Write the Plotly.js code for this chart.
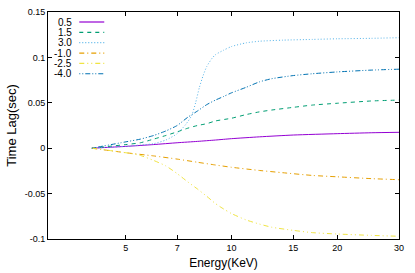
<!DOCTYPE html>
<html>
<head>
<meta charset="utf-8">
<script src="https://cdn.plot.ly/plotly-3.0.1.min.js"></script>
<style>html,body{margin:0;padding:0;background:#fff;}#chart{width:415px;height:273px;}</style>
</head>
<body>
<div id="chart"></div>
<script>
// Series names
const seriesNames = ["0.5", "1.5", "3.0", "-1.0", "-2.5", "-4.0"];
// Energies (KeV) per series, and time lag values (sec)
const e05 = [4, 5, 6, 7, 8, 9, 10, 12, 15, 20, 25, 30];
const v05 = [0, 0.002, 0.004, 0.006, 0.0075, 0.009, 0.0105, 0.0125, 0.0145, 0.016, 0.017, 0.0175];

const e15 = [4, 5, 5.5, 6, 6.5, 7, 7.5, 8, 8.5, 9, 10, 11, 12, 13, 15, 17, 20, 25, 30];
const v15 = [0, 0.004, 0.006, 0.010, 0.014, 0.018, 0.022, 0.025, 0.027, 0.030, 0.033, 0.037, 0.040, 0.042, 0.045, 0.0475, 0.0495, 0.052, 0.053];

const e30 = [4, 5, 5.5, 6, 6.5, 7, 7.4, 7.7, 7.9, 8.1, 8.3, 8.5, 8.8, 9, 9.5, 10, 11, 12, 14, 17, 20, 25, 30];
const v30 = [0, 0.002, 0.0035, 0.005, 0.009, 0.016, 0.026, 0.036, 0.050, 0.067, 0.080, 0.090, 0.099, 0.103, 0.108, 0.112, 0.116, 0.1178, 0.119, 0.1198, 0.1205, 0.121, 0.1217];

const em10 = [4, 5, 6, 7, 8, 9, 10, 12, 14, 17, 20, 25, 30];
const vm10 = [0, -0.005, -0.0085, -0.012, -0.0155, -0.0185, -0.021, -0.0245, -0.027, -0.030, -0.0315, -0.0335, -0.0347];

const em25 = [4, 5, 5.5, 6, 6.5, 7, 7.5, 8, 8.5, 9, 9.5, 10, 11, 12, 13, 15, 17, 20, 25, 30];
const vm25 = [0, -0.005, -0.008, -0.0135, -0.0195, -0.028, -0.037, -0.045, -0.053, -0.061, -0.067, -0.072, -0.079, -0.0835, -0.087, -0.0905, -0.093, -0.0945, -0.096, -0.097];

const em40 = [4, 5, 5.5, 6, 6.5, 7, 7.5, 8, 8.5, 9, 9.5, 10, 11, 12, 13, 15, 17, 20, 25, 30];
const vm40 = [0, 0.007, 0.010, 0.014, 0.019, 0.025, 0.034, 0.041, 0.048, 0.053, 0.057, 0.061, 0.067, 0.073, 0.0765, 0.080, 0.082, 0.084, 0.086, 0.087];

// Axis ticks
const xTickVals = [5, 7, 10, 15, 20, 30];
const xTickText = ["5", "7", "10", "15", "20", "30"];
const yTickVals = [-0.1, -0.05, 0, 0.05, 0.1, 0.15];
const yTickText = ["-0.1", "-0.05", "0", "0.05", "0.1", "0.15"];

const xs = [e05, e15, e30, em10, em25, em40];
const ys = [v05, v15, v30, vm10, vm25, vm40];
const colors = ["#9400d3", "#009e73", "#56b4e9", "#e69f00", "#f0e442", "#0072b2"];
const dashes = ["solid", "4px,4px", "1px,2px", "5px,3px,1px,3px", "5px,3px,1px,3px,1px,3px", "1px,2px,1px,2px,5px,2px"];

const traces = seriesNames.map((n, i) => ({
  x: xs[i], y: ys[i], name: n, type: "scatter", mode: "lines",
  line: {color: colors[i], width: 1, dash: dashes[i], shape: "spline", smoothing: 0.6},
  showlegend: false, hoverinfo: "skip"
}));

// custom gnuplot-style key (text left, line sample right)
const L = 48, R = 399.3, T = 11.7, B = 238.7;
const pxX = p => (p - L) / (R - L);
const pxY = p => (B - p) / (B - T);
const annotations = [];
const shapes = [];
seriesNames.forEach((n, i) => {
  const py = 21.7 + i * 10.35;
  annotations.push({xref: "paper", yref: "paper", x: pxX(74.5), y: pxY(py), text: n,
    showarrow: false, xanchor: "right", yanchor: "middle",
    font: {family: "Liberation Sans, Arial, sans-serif", size: 10, color: "#000"}});
  shapes.push({type: "line", xref: "paper", yref: "paper", x0: pxX(79.3), x1: pxX(104.3),
    y0: pxY(py), y1: pxY(py), line: {color: colors[i], width: 1.2, dash: dashes[i]}});
});

const layout = {
  width: 415, height: 273,
  margin: {l: 48, r: 15.7, t: 11.7, b: 34.3},
  paper_bgcolor: "#fff", plot_bgcolor: "#fff",
  font: {family: "Liberation Sans, Arial, sans-serif", size: 9, color: "#000"},
  showlegend: false,
  xaxis: {
    type: "log", range: [Math.log10(3), Math.log10(30)],
    tickvals: xTickVals, ticktext: xTickText,
    ticks: "inside", ticklen: 4, tickcolor: "#000", mirror: "ticks",
    showline: true, linecolor: "#000", linewidth: 1, showgrid: false, zeroline: false,
    tickfont: {size: 9},
    title: {text: "Energy(KeV)", font: {size: 12}, standoff: 6}
  },
  yaxis: {
    range: [-0.1, 0.15],
    tickvals: yTickVals, ticktext: yTickText,
    ticks: "inside", ticklen: 4, tickcolor: "#000", mirror: "ticks",
    showline: true, linecolor: "#000", linewidth: 1, showgrid: false, zeroline: false,
    tickfont: {size: 9},
    title: {text: "Time Lag(sec)", font: {size: 13}, standoff: 5}
  },
  annotations: annotations,
  shapes: shapes
};

Plotly.newPlot("chart", traces, layout, {displayModeBar: false, staticPlot: true});
</script>
</body>
</html>
